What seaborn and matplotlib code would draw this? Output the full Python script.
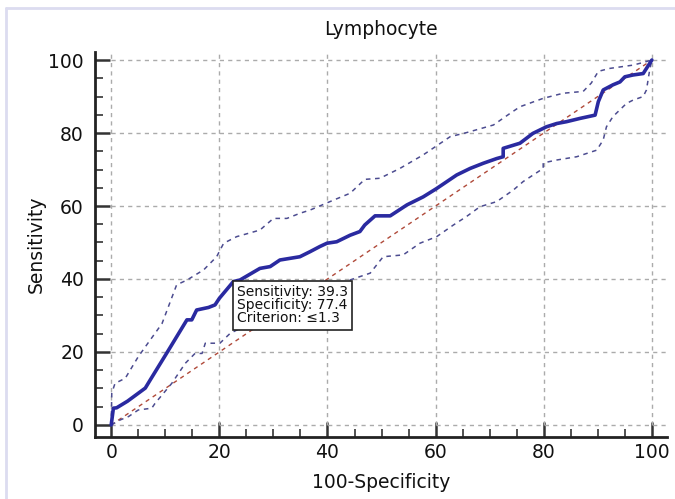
import numpy as np
import pandas as pd
import matplotlib
matplotlib.use("Agg")
import matplotlib.pyplot as plt
import seaborn as sns
from matplotlib.ticker import MultipleLocator

# ---- data ----
x_main = [0, 0.4, 1.0, 3.0, 6.3, 7.2, 10.6, 14.0, 14.9, 15.5, 15.8, 18.0, 19.2, 20.0, 22.6, 23.8,
          27.5, 29.4, 31.2, 34.9, 36.8, 38.6, 39.9, 41.7, 44.2, 46.0, 46.9, 48.8, 51.6, 54.7, 57.7,
          60.2, 62.1, 63.9, 66.4, 68.8, 71.3, 72.5, 72.5, 75.6, 78.0, 80.5, 82.4, 84.2, 86.7, 89.5,
          90.1, 91.0, 92.8, 94.1, 95.0, 96.5, 98.4, 99.0, 100]
y_main = [0, 4.6, 4.7, 6.5, 10.1, 12.3, 20.5, 28.8, 28.8, 30.6, 31.5, 32.2, 32.9, 34.7, 39.3, 39.7,
          42.9, 43.4, 45.2, 46.1, 47.5, 48.9, 49.8, 50.2, 52.0, 53.0, 54.8, 57.3, 57.3, 60.3, 62.5,
          64.8, 66.7, 68.5, 70.3, 71.7, 73.0, 73.5, 75.8, 77.2, 79.9, 81.7, 82.6, 83.1, 84.0, 84.9,
          88.6, 91.8, 93.2, 94.0, 95.4, 95.9, 96.3, 97.7, 100]

x_upper = [0, 0.1, 0.7, 2.6, 5.0, 6.3, 9.4, 12.1, 14.0, 17.1, 19.5, 20.8, 23.2, 27.5, 30.0, 32.5,
           34.9, 36.8, 41.1, 44.2, 46.9, 49.7, 53.4, 57.7, 62.7, 65.7, 70.7, 73.8, 75.6, 79.9,
           83.6, 87.3, 88.8, 90.1, 92.2, 96.5, 97.8, 100]
y_upper = [0, 8.7, 11.4, 12.8, 18.7, 21.4, 27.8, 38.4, 39.7, 42.5, 46.1, 49.8, 51.6, 53.4, 56.6, 56.6,
           58.0, 58.9, 61.6, 63.5, 67.3, 67.6, 70.3, 74.0, 79.0, 80.1, 82.2, 85.4, 87.2, 89.5,
           90.9, 91.4, 93.7, 96.9, 97.7, 98.6, 99.1, 100]

x_lower = [0, 1.7, 3.2, 5.0, 7.5, 8.1, 11.2, 13.7, 15.5, 16.8, 17.4, 18.9, 20.1, 22.0, 30.0, 39.9,
           42.3, 47.9, 50.3, 54.0, 57.1, 60.2, 63.3, 65.7, 68.2, 71.3, 74.4, 76.2, 79.9, 79.9,
           82.4, 86.1, 89.8, 91.0, 91.6, 92.8, 95.3, 96.5, 98.4, 99.0, 99.6, 100]
y_lower = [0, 1.4, 2.3, 4.1, 4.6, 5.9, 11.4, 16.9, 19.6, 19.6, 22.4, 22.4, 22.4, 25.1, 31.0, 38.8,
           38.8, 41.6, 46.1, 46.6, 49.8, 51.6, 54.8, 57.1, 59.8, 61.2, 64.4, 66.7, 70.3, 71.8,
           72.6, 73.5, 75.3, 78.1, 81.7, 84.5, 88.1, 89.0, 90.0, 91.8, 97.3, 100]

x_diag = [0, 100]
y_diag = [0, 100]

major_ticks = [0, 20, 40, 60, 80, 100]
title = "Lymphocyte"
xlabel = "100-Specificity"
ylabel = "Sensitivity"
annot_lines = ["Sensitivity: 39.3", "Specificity: 77.4", "Criterion: \u22641.3"]
crit_x, crit_y = 22.6, 39.3

# ---- plot ----
sns.set_style("white")
plt.rcParams['font.family'] = ['DejaVu Sans']

fig = plt.figure(figsize=(6.75, 4.99), dpi=100)
ax = fig.add_axes([95/675, 62/499, 572/675, 385/499])

XMAX, YMAX = 102.8, 102.2
ax.set_xlim(-3, XMAX)
ax.set_ylim(-3.3, YMAX)

grid_kw = dict(color="#ababab", lw=1.0, linestyles=(0, (3, 3)), zorder=1)
ax.hlines(major_ticks, 0, XMAX, **grid_kw)
ax.vlines(major_ticks, 0, YMAX, **grid_kw)

sns.lineplot(x=x_diag, y=y_diag, ax=ax, color="#b04a3a", lw=1.0,
             linestyle=(0, (3, 3)), sort=False, estimator=None, zorder=2)
sns.lineplot(x=x_upper, y=y_upper, ax=ax, color="#4c4c90", lw=1.1,
             linestyle=(0, (3, 3)), sort=False, estimator=None, zorder=3)
sns.lineplot(x=x_lower, y=y_lower, ax=ax, color="#4c4c90", lw=1.1,
             linestyle=(0, (3, 3)), sort=False, estimator=None, zorder=3)
sns.lineplot(x=x_main, y=y_main, ax=ax, color="#2a2aa0", lw=2.6,
             sort=False, estimator=None, zorder=4)

for s in ["top", "right"]:
    ax.spines[s].set_visible(False)
for s in ["left", "bottom"]:
    ax.spines[s].set_color("#222222")
    ax.spines[s].set_linewidth(2.0)

ax.set_xticks(major_ticks)
ax.set_yticks(major_ticks)
ax.xaxis.set_minor_locator(MultipleLocator(5))
ax.yaxis.set_minor_locator(MultipleLocator(5))
ax.tick_params(axis="both", which="major", direction="in", length=11, width=1.8,
               color="#333333", labelsize=13.5, labelcolor="#111111")
ax.tick_params(axis="both", which="minor", direction="in", length=6, width=1.2,
               color="#333333")
ax.tick_params(axis="y", which="major", pad=8)
ax.tick_params(axis="x", which="major", pad=4.5)
ax.tick_params(bottom=True, left=True, which="both")

ax.set_title(title, fontsize=13.5, pad=12, color="#111111")
ax.set_xlabel(xlabel, fontsize=13.5, labelpad=8, color="#111111")
ax.set_ylabel(ylabel, fontsize=13.5, labelpad=2, color="#111111")

ax.text(crit_x + 0.7, crit_y - 1.0, "\n".join(annot_lines), ha="left", va="top",
        fontsize=10, linespacing=0.92, color="#111111", zorder=6,
        bbox=dict(boxstyle="square,pad=0.3", fc="white", ec="#222222", lw=1.2))

# light frame around the panel
fig.add_artist(plt.Line2D([6/675, 6/675], [0, 1 - 8/499], transform=fig.transFigure,
                          color="#dcdcf0", lw=2))
fig.add_artist(plt.Line2D([6/675, 1], [1 - 8/499, 1 - 8/499], transform=fig.transFigure,
                          color="#dcdcf0", lw=2))

fig.savefig("out.png", dpi=100)
